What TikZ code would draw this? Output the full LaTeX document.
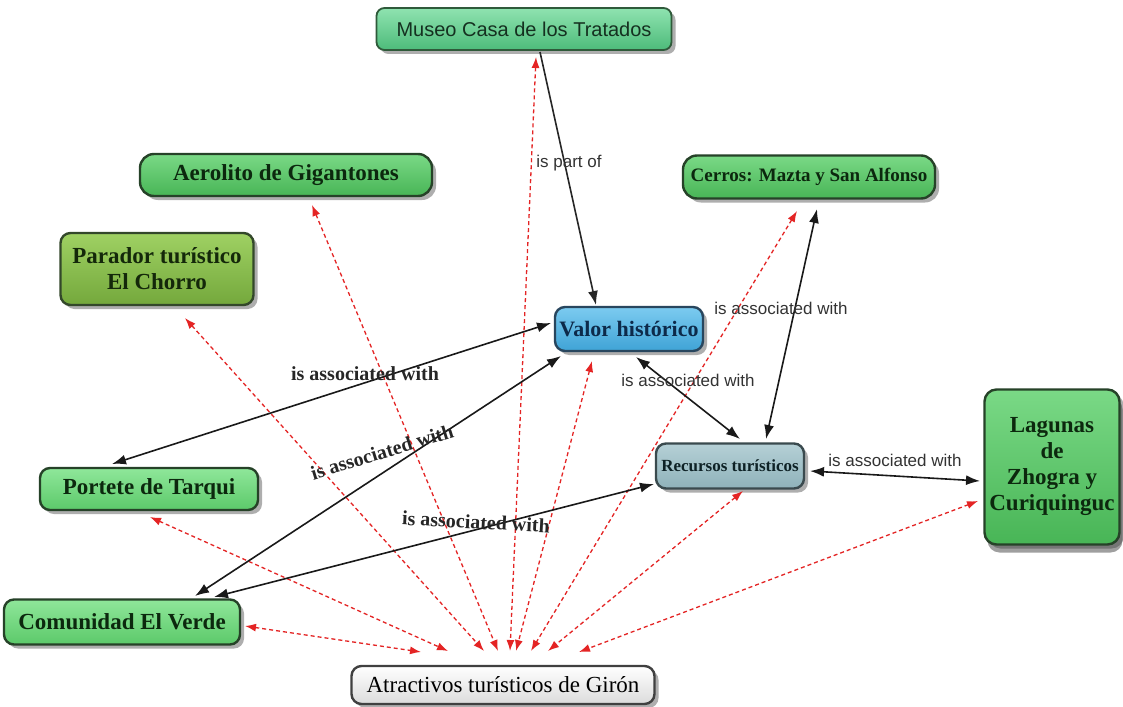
\documentclass[tikz,border=0pt]{standalone}
\usepackage{fontspec}
\setmainfont{Liberation Serif}
\newfontfamily\sansf{Liberation Sans}
\usetikzlibrary{shadows,arrows.meta}
\definecolor{rdc}{HTML}{E42424}
\begin{document}
\begin{tikzpicture}[x=1pt,y=-1pt,
  box/.style={rectangle, rounded corners=10pt, line width=2.4pt, inner sep=0pt, align=center,
    font=\fontsize{23}{26}\selectfont\bfseries,
    drop shadow={shadow xshift=4pt, shadow yshift=-4pt, opacity=0.45, fill=black!70}},
  gbox/.style={box, draw=green!20!black!85, top color=green!45!white!85!black, bottom color=green!55!black!80!white, text=green!10!black},
  greenA/.style={box, draw={rgb,255:red,38;green,66;blue,40}, top color={rgb,255:red,122;green,217;blue,134}, bottom color={rgb,255:red,72;green,181;blue,86}, text={rgb,255:red,12;green,40;blue,14}},
  greenL/.style={box, draw={rgb,255:red,38;green,66;blue,40}, top color={rgb,255:red,143;green,231;blue,154}, bottom color={rgb,255:red,92;green,201;blue,106}, text={rgb,255:red,12;green,40;blue,14}},
  olive/.style={box, draw={rgb,255:red,51;green,72;blue,42}, top color={rgb,255:red,159;green,209;blue,99}, bottom color={rgb,255:red,116;green,168;blue,60}, text={rgb,255:red,20;green,40;blue,10}},
  museost/.style={box, line width=1.8pt, rounded corners=8pt, draw={rgb,255:red,47;green,90;blue,58}, top color={rgb,255:red,143;green,227;blue,176}, bottom color={rgb,255:red,77;green,187;blue,122}, text={rgb,255:red,21;green,48;blue,32}, font=\sansf\fontsize{20}{24}\selectfont},
  bluest/.style={box, draw={rgb,255:red,40;green,70;blue,94}, top color={rgb,255:red,124;green,203;blue,240}, bottom color={rgb,255:red,63;green,163;blue,214}, text={rgb,255:red,13;green,42;blue,74}, font=\fontsize{22}{26}\selectfont\bfseries},
  greyst/.style={box, draw={rgb,255:red,58;green,74;blue,78}, top color={rgb,255:red,181;green,208;blue,214}, bottom color={rgb,255:red,143;green,178;blue,186}, text={rgb,255:red,14;green,34;blue,38}, font=\fontsize{17}{20}\selectfont\bfseries},
  whitest/.style={box, draw={rgb,255:red,64;green,64;blue,64}, top color=white, bottom color=black!14, text=black, font=\fontsize{23}{26}\selectfont},
  blk/.style={line width=1.6pt, black!90, arrows={Latex[length=14pt,width=10pt]-Latex[length=14pt,width=10pt]}},
  blkone/.style={line width=1.6pt, black!85, arrows={-Latex[length=14pt,width=10pt]}},
  rdash/.style={line width=1.3pt, rdc, dash pattern=on 4pt off 3pt, arrows={Latex[length=11pt,width=8pt]-Latex[length=11pt,width=8pt]}},
  slab/.style={font=\sansf\fontsize{17}{20}\selectfont, text=black!80, inner sep=0pt},
  rlab/.style={font=\fontsize{20}{24}\selectfont\bfseries, text=black!85, inner sep=0pt}
]
\useasboundingbox[fill=white] (0,0) rectangle (1123,706);

% nodes
\node[museost, minimum width=295pt, minimum height=42pt] (museo) at (524,29) {Museo Casa de los Tratados};
\node[greenA, minimum width=292pt, minimum height=42pt, rounded corners=14pt] (aero) at (286,175) {Aerolito de Gigantones};
\node[olive, minimum width=193pt, minimum height=72pt] (parador) at (157,269) {Parador turístico\\El Chorro};
\node[greenA, minimum width=252pt, minimum height=43pt, rounded corners=14pt, font=\fontsize{19}{22}\selectfont\bfseries] (cerros) at (809,177) {Cerros: Mazta y San Alfonso};
\node[bluest, minimum width=148pt, minimum height=44pt] (valor) at (629,329) {Valor histórico};
\node[greyst, minimum width=148pt, minimum height=45pt] (recursos) at (730,466) {Recursos turísticos};
\node[greenA, minimum width=135pt, minimum height=155pt, rounded corners=12pt, drop shadow={shadow xshift=3pt, shadow yshift=-8pt, opacity=0.5, fill=black!75}] (lagunas) at (1052,467) {Lagunas\\de\\Zhogra y\\Curiquinguc};
\node[greenL, minimum width=218pt, minimum height=42pt] (portete) at (149,489) {Portete de Tarqui};
\node[greenL, minimum width=236pt, minimum height=45pt] (comunidad) at (122,622) {Comunidad El Verde};
\node[whitest, minimum width=303pt, minimum height=38pt] (atr) at (503,685) {Atractivos turísticos de Girón};

% red dashed connectors
\draw[rdash] ([shift={(123,4)}]comunidad.center) -- ([shift={(-82,-33)}]atr.center);
\draw[rdash] ([shift={(1,28)}]portete.center) -- ([shift={(-55,-34)}]atr.center);
\draw[rdash] ([shift={(28,49)}]parador.center) -- ([shift={(-19,-34)}]atr.center);
\draw[rdash] ([shift={(26,30)}]aero.center) -- ([shift={(-5,-34)}]atr.center);
\draw[rdash] ([shift={(12,28)}]museo.center) -- ([shift={(7,-34)}]atr.center);
\draw[rdash] ([shift={(-37,32)}]valor.center) -- ([shift={(13,-34)}]atr.center);
\draw[rdash] ([shift={(-12,34)}]cerros.center) -- ([shift={(28,-34)}]atr.center);
\draw[rdash] ([shift={(13,25)}]recursos.center) -- ([shift={(45,-34)}]atr.center);
\draw[rdash] ([shift={(-74,34)}]lagunas.center) -- ([shift={(76,-33)}]atr.center);

% black connectors
\draw[blkone] ([shift={(16,23)}]museo.center) -- ([shift={(-33,-24)}]valor.center);
\draw[blk] ([shift={(-78,-6)}]valor.center) -- ([shift={(-37,-25)}]portete.center);
\draw[blk] ([shift={(-68,27)}]valor.center) -- ([shift={(73,-26)}]comunidad.center);
\draw[blk] ([shift={(-76,18)}]recursos.center) -- ([shift={(92,-25)}]comunidad.center);
\draw[blk] ([shift={(7,28)}]valor.center) -- ([shift={(10,-27)}]recursos.center);
\draw[blk] ([shift={(8,32)}]cerros.center) -- ([shift={(36,-27)}]recursos.center);
\draw[blk] ([shift={(80,5)}]recursos.center) -- ([shift={(-72,14)}]lagunas.center);

% labels
\node[slab] (l1) at (569,163) {is part of};
\node[rlab] (l2) at (365,374) {is associated with};
\node[rlab, rotate=17] (l3) at (382,452) {is associated with};
\node[rlab, rotate=-3] (l4) at (476,522) {is associated with};
\node[slab] (l5) at (688,380) {is associated with};
\node[slab] (l6) at (781,308) {is associated with};
\node[slab] (l7) at (895,460) {is associated with};
\end{tikzpicture}
\end{document}
